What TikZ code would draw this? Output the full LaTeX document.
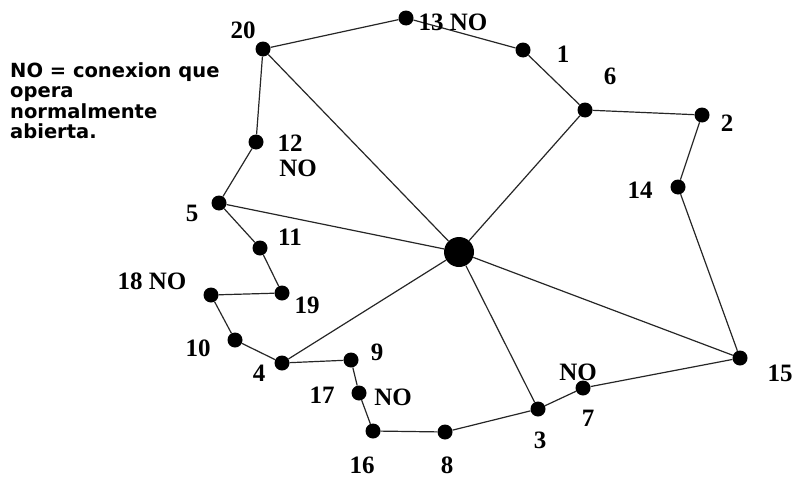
\documentclass[tikz,border=0pt]{standalone}
\usepackage{fontspec}
\setmainfont{Liberation Serif}
\newfontfamily\legfont{DejaVu Sans}
\begin{document}
\begin{tikzpicture}[x=1pt,y=-1pt,
  dot/.style={circle,fill=black,inner sep=0pt,minimum size=15pt},
  hub/.style={circle,fill=black,inner sep=0pt,minimum size=30pt},
  lbl/.style={font=\fontsize{25}{21}\selectfont\bfseries,inner sep=0pt,align=center},
  leg/.style={font=\legfont\fontsize{19.5}{20}\selectfont\bfseries,inner sep=0pt,anchor=base west},
  edge/.style={line width=1.2pt,black!85}]
\useasboundingbox (0,0) rectangle (795,479);
% nodes
\node[hub] (c) at (459,252) {};
\node[dot] (n20) at (263,49) {};
\node[dot] (n13) at (406,18) {};
\node[dot] (n1) at (523,50) {};
\node[dot] (n6) at (585,110) {};
\node[dot] (n2) at (702,115) {};
\node[dot] (n14) at (678,187) {};
\node[dot] (n15) at (740,358) {};
\node[dot] (n7) at (583,388) {};
\node[dot] (n3) at (538,409) {};
\node[dot] (n8) at (445,432) {};
\node[dot] (n16) at (373,431) {};
\node[dot] (n17) at (359,393) {};
\node[dot] (n9) at (351,360) {};
\node[dot] (n4) at (282,363) {};
\node[dot] (n10) at (235,340) {};
\node[dot] (n18) at (211,295) {};
\node[dot] (n19) at (282,293) {};
\node[dot] (n11) at (260,248) {};
\node[dot] (n5) at (219,203) {};
\node[dot] (n12) at (256,142) {};
% edges
\draw[edge] (n20) -- (n13) -- (n1) -- (n6) -- (n2) -- (n14) -- (n15) -- (n7) -- (n3) -- (n8) -- (n16) -- (n17) -- (n9) -- (n4) -- (n10) -- (n18) -- (n19) -- (n11) -- (n5) -- (n12) -- (n20);
\foreach \t in {n20,n6,n5,n4,n3,n15} \draw[edge] (c) -- (\t);
% labels
\node[lbl] (l20) at (243,30) {20};
\node[lbl] (l13) at (453,22) {13 NO};
\node[lbl] (l1) at (563,54) {1};
\node[lbl] (l6) at (610,76) {6};
\node[lbl] (l2) at (727,123) {2};
\node[lbl] (l14) at (640,190) {14};
\node[lbl] (l15) at (780,373) {15};
\node[lbl] (l7n) at (578,372) {NO};
\node[lbl] (l7) at (588,418) {7};
\node[lbl] (l3) at (540,440) {3};
\node[lbl] (l8) at (447,465) {8};
\node[lbl] (l16) at (362,465) {16};
\node[lbl] (l17) at (322,395) {17};
\node[lbl] (l17n) at (393,397) {NO};
\node[lbl] (l9) at (377,352) {9};
\node[lbl] (l4) at (259,373) {4};
\node[lbl] (l10) at (198,348) {10};
\node[lbl] (l18) at (152,281) {18 NO};
\node[lbl] (l19) at (307,305) {19};
\node[lbl] (l11) at (290,237) {11};
\node[lbl] (l5) at (192,213) {5};
\node[lbl] (l12) at (290,143) {12};
\node[lbl] (l12n) at (298,168) {NO};
% legend
\node[leg] (g1) at (10,77) {NO = conexion que};
\node[leg] (g2) at (10,97.5) {opera};
\node[leg] (g3) at (10,118) {normalmente};
\node[leg] (g4) at (10,138.5) {abierta.};
\end{tikzpicture}
\end{document}
